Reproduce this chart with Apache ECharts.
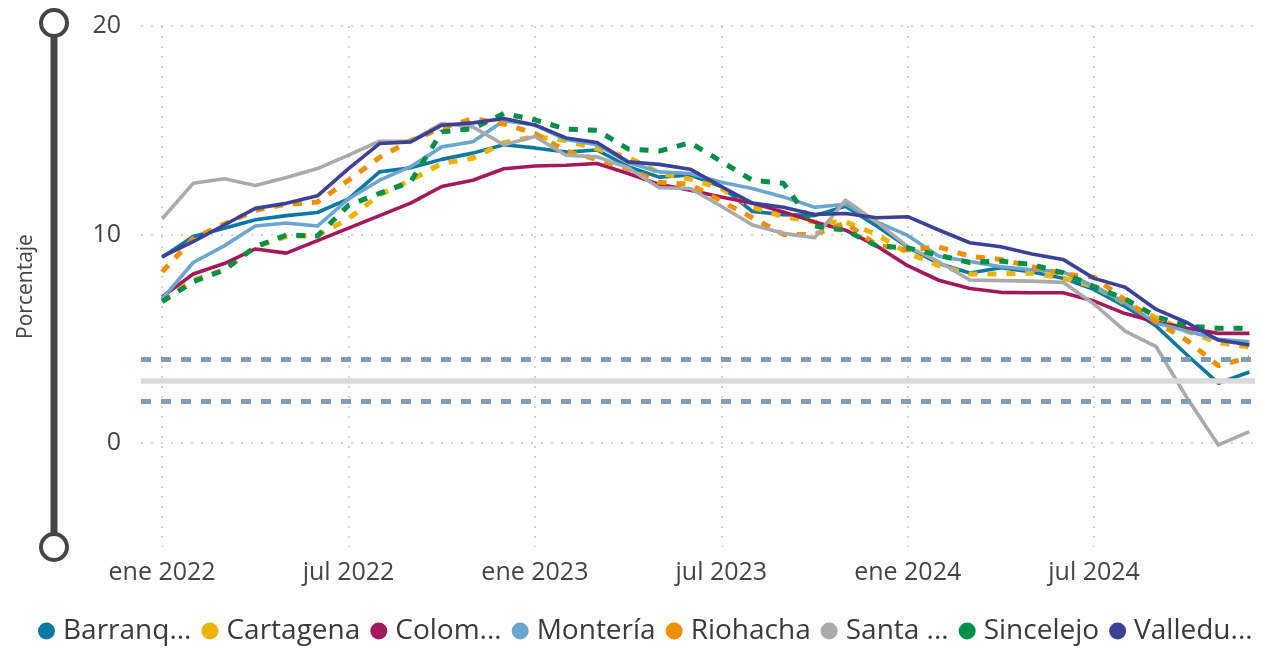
<!DOCTYPE html>
<html>
<head>
<meta charset="utf-8">
<title>Inflación anual por ciudad</title>
<script src="https://cdn.jsdelivr.net/npm/echarts@6/dist/echarts.min.js"></script>
<style>
  html, body { margin: 0; padding: 0; background: #ffffff; }
  #chart { width: 1261px; height: 648px; }
</style>
</head>
<body>
<div id="chart"></div>
<script>
// Monthly categories: ene 2022 .. dic 2024
const monthAbbr = ['ene', 'feb', 'mar', 'abr', 'may', 'jun', 'jul', 'ago', 'sep', 'oct', 'nov', 'dic'];
const years = [2022, 2023, 2024];
const months = [];
years.forEach(y => monthAbbr.forEach(m => months.push(m + ' ' + y)));

// Tick positions (month index) and value ticks
const xTickIndex = [0, 6, 12, 18, 24, 30];
const yTicks = [0, 10, 20];

// Target band: lower limit, target, upper limit
const targetBand = [2, 3, 4];

// Annual variation (%) per city
const barranquilla = [8.9, 9.9, 10.3, 10.7, 10.9, 11.05, 11.7, 13.0, 13.2, 13.6, 13.9, 14.3, 14.15, 13.95, 14.05, 13.25, 12.75, 12.85, 12.3, 11.1, 10.95, 10.9, 11.35, 10.4, 9.4, 8.6, 8.15, 8.4, 8.2, 7.9, 7.35, 6.55, 5.6, 4.2, 2.86, 3.4];
const cartagena = [6.85, 7.8, 8.3, 9.4, 9.9, 9.95, 10.75, 11.9, 12.6, 13.4, 13.65, 14.4, 14.7, 14.5, 14.1, 13.7, 12.95, 12.65, 12.2, 11.3, 10.85, 10.6, 10.6, 10.0, 9.1, 8.5, 8.1, 8.1, 8.15, 7.9, 7.5, 6.7, 6.0, 5.35, 4.8, 4.6];
const colombia = [7.0, 8.1, 8.6, 9.3, 9.1, 9.7, 10.3, 10.9, 11.5, 12.3, 12.6, 13.15, 13.28, 13.32, 13.4, 12.92, 12.4, 12.12, 11.8, 11.5, 11.08, 10.6, 10.2, 9.45, 8.5, 7.8, 7.4, 7.22, 7.2, 7.2, 6.8, 6.2, 5.8, 5.5, 5.25, 5.25];
const monteria = [6.9, 8.65, 9.45, 10.4, 10.55, 10.4, 11.7, 12.6, 13.25, 14.2, 14.45, 15.45, 15.25, 14.55, 14.3, 13.45, 13.0, 12.92, 12.5, 12.2, 11.8, 11.3, 11.45, 10.6, 9.95, 8.95, 8.7, 8.45, 8.3, 8.2, 7.5, 6.7, 5.75, 5.35, 4.97, 4.85];
const riohacha = [8.2, 9.8, 10.5, 11.15, 11.45, 11.55, 12.6, 13.7, 14.5, 15.1, 15.55, 15.3, 14.85, 14.0, 13.6, 13.15, 12.5, 12.4, 11.6, 10.8, 10.0, 10.0, 10.55, 9.5, 9.25, 9.4, 8.95, 8.8, 8.45, 8.1, 7.95, 6.85, 5.8, 4.9, 3.7, 4.1];
const santaMarta = [10.75, 12.45, 12.67, 12.35, 12.73, 13.16, 13.8, 14.47, 14.47, 15.32, 15.16, 14.3, 14.7, 13.8, 13.72, 13.2, 12.24, 12.2, 11.35, 10.45, 10.05, 9.84, 11.64, 10.6, 9.41, 8.69, 7.81, 7.78, 7.76, 7.7, 6.66, 5.36, 4.61, 2.14, -0.1, 0.54];
const sincelejo = [6.77, 7.73, 8.29, 9.41, 9.97, 9.92, 11.4, 11.97, 12.52, 14.92, 15.08, 15.8, 15.5, 15.05, 15.0, 14.1, 14.0, 14.4, 13.5, 12.6, 12.45, 10.4, 10.2, 9.45, 9.35, 9.0, 8.65, 8.72, 8.55, 8.15, 7.5, 6.9, 6.05, 5.6, 5.5, 5.5];
const valledupar = [8.93, 9.65, 10.45, 11.25, 11.49, 11.85, 13.16, 14.36, 14.44, 15.24, 15.35, 15.56, 15.25, 14.63, 14.41, 13.48, 13.36, 13.13, 12.3, 11.5, 11.3, 10.96, 11.0, 10.8, 10.85, 10.21, 9.6, 9.41, 9.06, 8.8, 7.89, 7.46, 6.4, 5.76, 4.93, 4.69];

const cities = ['Barranquilla', 'Cartagena', 'Colombia', 'Montería', 'Riohacha', 'Santa Marta', 'Sincelejo', 'Valledupar'];
const legendLabels = ['Barranq...', 'Cartagena', 'Colom...', 'Montería', 'Riohacha', 'Santa ...', 'Sincelejo', 'Valledu...'];
const cityValues = [barranquilla, cartagena, colombia, monteria, riohacha, santaMarta, sincelejo, valledupar];

// Presentation
const cityColors = ['#0A78A3', '#ECB400', '#A3195B', '#6AA6CE', '#F28F00', '#AAAAAA', '#008F46', '#3C4198'];
const cityDashed = [false, true, false, false, true, false, true, false];
const FONT = "'Open Sans', 'Noto Sans', sans-serif";
const TEXT = '#444444';

const chart = echarts.init(document.getElementById('chart'), null, { renderer: 'canvas' });

const lineSeries = cities.map((name, k) => ({
  name: name,
  type: 'line',
  data: cityValues[k].map((v, i) => [i, v]),
  color: cityColors[k],
  showSymbol: false,
  symbol: 'none',
  smooth: false,
  z: 3,
  emphasis: { disabled: true },
  itemStyle: { color: cityColors[k] },
  lineStyle: cityDashed[k]
    ? { color: cityColors[k], width: 5, type: [9, 10], cap: 'butt' }
    : { color: cityColors[k], width: 3.6, type: 'solid', join: 'round' }
}));

// Target band drawn as reference lines
const bandSeries = {
  name: 'band',
  type: 'line',
  data: [],
  z: 2,
  silent: true,
  markLine: {
    silent: true,
    symbol: 'none',
    animation: false,
    label: { show: false },
    emphasis: { disabled: true },
    data: targetBand.map(v => ({
      yAxis: v,
      lineStyle: v === 3
        ? { color: '#DADADA', width: 5.5, type: 'solid' }
        : { color: '#819DB8', width: 5, type: [10, 10] }
    }))
  }
};

const option = {
  animation: false,
  backgroundColor: '#ffffff',
  textStyle: { fontFamily: FONT },
  grid: { left: 141, right: 6, top: 26, bottom: 101 },
  legend: {
    data: cities,
    left: 38,
    top: 614,
    width: 1223,
    icon: 'circle',
    itemWidth: 17,
    itemHeight: 17,
    itemGap: 10,
    padding: 0,
    selectedMode: false,
    formatter: name => legendLabels[cities.indexOf(name)],
    textStyle: { fontFamily: FONT, fontSize: 28, color: '#3a3a3a', lineHeight: 34, padding: [0, 0, 0, 3] }
  },
  xAxis: {
    type: 'value',
    min: -0.68,
    max: 35.18,
    axisLine: { show: false },
    axisTick: { show: false, customValues: xTickIndex },
    axisLabel: {
      customValues: xTickIndex,
      formatter: v => months[v],
      fontFamily: FONT,
      fontSize: 25,
      color: TEXT,
      margin: 13
    },
    splitLine: { show: true, lineStyle: { color: '#C8C8C8', width: 1.6, type: [2, 8] } }
  },
  yAxis: {
    type: 'value',
    min: -5,
    max: 20,
    name: 'Porcentaje',
    nameLocation: 'middle',
    nameRotate: 90,
    nameGap: 104,
    nameTextStyle: { fontFamily: FONT, fontSize: 21, color: TEXT },
    axisLine: { show: false },
    axisTick: { show: false, customValues: yTicks },
    axisLabel: { customValues: yTicks, fontFamily: FONT, fontSize: 25, color: TEXT, margin: 20 },
    splitLine: { show: true, lineStyle: { color: '#C8C8C8', width: 1.6, type: [2, 8] } }
  },
  dataZoom: [{
    type: 'slider',
    yAxisIndex: 0,
    orient: 'vertical',
    filterMode: 'none',
    start: 0,
    end: 100,
    left: 48.5,
    width: 7,
    top: 22,
    bottom: 100,
    zoomLock: true,
    backgroundColor: 'transparent',
    borderColor: 'transparent',
    fillerColor: '#454545',
    showDetail: false,
    showDataShadow: false,
    brushSelect: false,
    moveHandleSize: 0,
    moveHandleStyle: { opacity: 0 },
    dataBackground: { lineStyle: { opacity: 0 }, areaStyle: { opacity: 0 } },
    handleIcon: 'circle',
    handleSize: 26,
    handleStyle: { color: '#ffffff', borderColor: '#454545', borderWidth: 4 },
    emphasis: { handleStyle: { color: '#ffffff', borderColor: '#454545', borderWidth: 4 } }
  }],
  series: [bandSeries].concat(lineSeries)
};

chart.setOption(option);
</script>
</body>
</html>
